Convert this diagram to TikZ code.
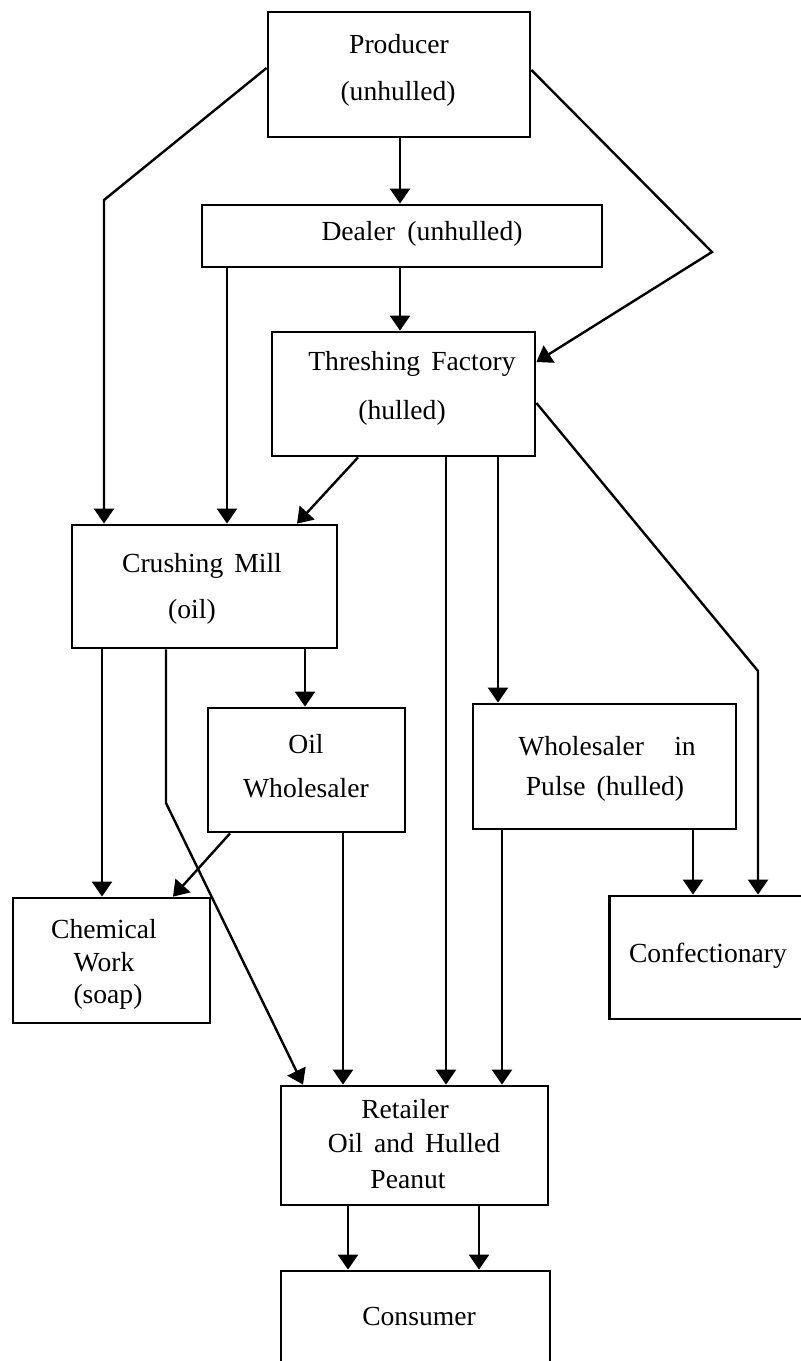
\documentclass[tikz,border=0pt]{standalone}
\usepackage{fontspec}
\setmainfont{Liberation Serif}
\usetikzlibrary{arrows.meta}
\begin{document}
\begin{tikzpicture}[x=0.5pt,y=-0.5pt,
  box/.style={draw, line width=1.4pt, inner sep=0pt, rectangle},
  lbl/.style={font=\fontsize{13.8}{16}\selectfont, inner sep=0pt, text height=0.7em, text depth=0.2em},
  arr/.style={line width=1.2pt, -{Triangle[width=10pt,length=7.5pt]}}]
\useasboundingbox (0,0) rectangle (801,1361);
% boxes
\node[box, minimum width=131pt, minimum height=62.5pt] (prod) at (399,74.5) {};
\node[box, minimum width=200pt, minimum height=31pt] (dealer) at (402,236) {};
\node[box, minimum width=131.5pt, minimum height=62pt] (thresh) at (403.5,394) {};
\node[box, minimum width=132.5pt, minimum height=61.5pt] (crush) at (204.5,586.5) {};
\node[box, minimum width=98.5pt, minimum height=62pt] (oilw) at (306.5,770) {};
\node[box, minimum width=131.5pt, minimum height=62.5pt] (pulse) at (604.5,766.5) {};
\node[box, minimum width=98.5pt, minimum height=62.5pt] (chem) at (111.5,960.5) {};
\node[box, minimum width=99pt, minimum height=61.5pt] (conf) at (708.5,957.5) {};
\node[box, minimum width=133.5pt, minimum height=59.5pt] (retail) at (414.5,1145.5) {};
\node[box, minimum width=134.5pt, minimum height=52pt] (cons) at (415.5,1323) {};
% labels
\node[lbl] (t1) at (399,48) {Producer};
\node[lbl] (t2) at (398,95) {(unhulled)};
\node[lbl] (t3) at (422,235) {Dealer\hspace{0.45em}(unhulled)};
\node[lbl] (t4) at (412,365) {Threshing\hspace{0.4em}Factory};
\node[lbl] (t5) at (402,414) {(hulled)};
\node[lbl] (t6) at (202,567) {Crushing\hspace{0.4em}Mill};
\node[lbl] (t7) at (192,613) {(oil)};
\node[lbl] (t8) at (306,748) {Oil};
\node[lbl] (t9) at (306,792) {Wholesaler};
\node[lbl] (t10) at (607,750) {Wholesaler\hspace{1.1em}in};
\node[lbl] (t11) at (605,790) {Pulse\hspace{0.4em}(hulled)};
\node[lbl] (t12) at (104,933) {Chemical};
\node[lbl] (t13) at (104,966) {Work};
\node[lbl] (t14) at (108,998) {(soap)};
\node[lbl] (t15) at (708,957) {Confectionary};
\node[lbl] (t16) at (405,1113) {Retailer};
\node[lbl] (t17) at (414,1147) {Oil\hspace{0.4em}and\hspace{0.4em}Hulled};
\node[lbl] (t18) at (408,1183) {Peanut};
\node[lbl] (t19) at (419,1320) {Consumer};
% bend points
\coordinate (b1) at (104,200);
\coordinate (b2) at (712,252);
\coordinate (b3) at (758,671);
\coordinate (b4) at (166,803);
% connectors
\draw[arr] (prod.south -| 400,0) -- (dealer.north -| 400,0);
\draw[arr] (prod.west |- 0,68) -- (b1) -- (crush.north -| b1);
\draw[arr] (prod.east |- 0,70) -- (b2) -- (thresh.east |- 0,362);
\draw[arr] (dealer.south -| 400,0) -- (thresh.north -| 400,0);
\draw[arr] (dealer.south -| 227,0) -- (crush.north -| 227,0);
\draw[arr] (thresh.south -| 358,0) -- (crush.north -| 297,0);
\draw[arr] (thresh.south -| 446,0) -- (retail.north -| 446,0);
\draw[arr] (thresh.south -| 498,0) -- (pulse.north -| 498,0);
\draw[arr] (thresh.east |- 0,403) -- (b3) -- (conf.north -| b3);
\draw[arr] (crush.south -| 102,0) -- (chem.north -| 102,0);
\draw[arr] (crush.south -| 166,0) -- (b4) -- (retail.north -| 303,0);
\draw[arr] (crush.south -| 305,0) -- (oilw.north -| 305,0);
\draw[arr] (oilw.south -| 230,0) -- (chem.north -| 173,0);
\draw[arr] (oilw.south -| 343,0) -- (retail.north -| 343,0);
\draw[arr] (pulse.south -| 502,0) -- (retail.north -| 502,0);
\draw[arr] (pulse.south -| 693,0) -- (conf.north -| 693,0);
\draw[arr] (retail.south -| 348,0) -- (cons.north -| 348,0);
\draw[arr] (retail.south -| 479,0) -- (cons.north -| 479,0);
\end{tikzpicture}
\end{document}
